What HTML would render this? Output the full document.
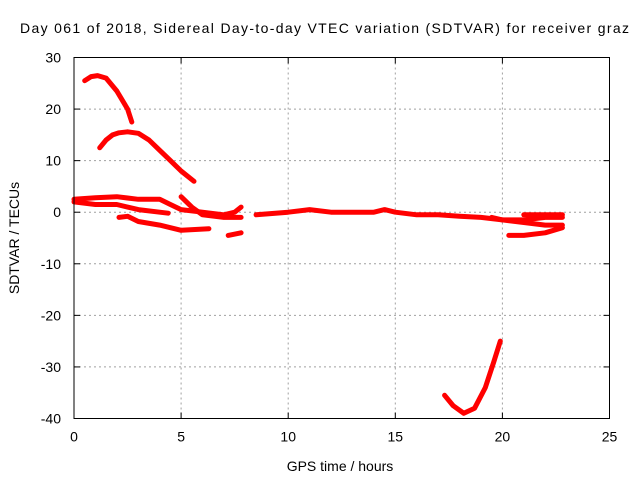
<!DOCTYPE html>
<html><head><meta charset="utf-8"><style>
body{margin:0;background:#fff}
svg text{font-family:"Liberation Sans",sans-serif;font-size:14px;fill:#000}
</style></head><body>
<svg id="chart" width="640" height="480" xmlns="http://www.w3.org/2000/svg">
<text x="20" y="33" textLength="609" lengthAdjust="spacing">Day 061 of 2018, Sidereal Day-to-day VTEC variation (SDTVAR) for receiver graz</text>
<text x="340" y="471" text-anchor="middle">GPS time / hours</text>
<text transform="translate(19,238) rotate(-90)" text-anchor="middle">SDTVAR / TECUs</text>
<g id="grid"></g>
<g id="series"></g>
<rect x="74" y="57.5" width="535.5" height="361" fill="none" stroke="#000" stroke-width="1"/>
<g id="ticks"></g>
</svg>
<script>
const xTicks=[0,5,10,15,20,25];
const yTicks=[-40,-30,-20,-10,0,10,20,30];
const arcTopX=[0.5,0.8,1.1,1.5,2,2.5,2.7];
const arcTopY=[25.5,26.3,26.5,26,23.5,20,17.5];
const arcHighX=[1.2,1.5,1.8,2.1,2.5,3,3.5,4,4.5,5,5.6];
const arcHighY=[12.5,14,15,15.4,15.6,15.3,14,12,10,8,6];
const band1X=[0,1,2,3,4,4.5,5,6,7,7.5,7.8];
const band1Y=[2.5,2.8,3,2.5,2.5,1.5,0.5,0,-0.5,0,1];
const band2X=[0,1,2,3,4,4.4];
const band2Y=[2,1.5,1.5,0.5,0,-0.2];
const band3X=[2.1,2.5,3,4,5,6.3];
const band3Y=[-1,-0.8,-1.8,-2.5,-3.5,-3.2];
const band4X=[5,5.5,6,7,7.8];
const band4Y=[3,1,-0.5,-1,-1];
const seg1X=[7.2,7.8];
const seg1Y=[-4.5,-4];
const longX=[8.5,10,11,12,14,14.5,15,16,17,18,19,20,21,22,22.8];
const longY=[-0.5,0,0.5,0,0,0.5,0,-0.5,-0.5,-0.8,-1,-1.5,-1.5,-1,-1];
const band5X=[19.5,20,21,22,22.8];
const band5Y=[-1,-1.5,-2,-2.5,-2.5];
const band6X=[20.3,21,22,22.8];
const band6Y=[-4.5,-4.5,-4,-3];
const band7X=[21,22.8];
const band7Y=[-0.5,-0.5];
const deepX=[17.3,17.7,18.2,18.7,19.2,19.6,19.9];
const deepY=[-35.5,-37.5,-39,-38,-34,-29,-25];
const seriesX=[arcTopX,arcHighX,band1X,band2X,band3X,band4X,seg1X,longX,band5X,band6X,band7X,deepX];
const seriesY=[arcTopY,arcHighY,band1Y,band2Y,band3Y,band4Y,seg1Y,longY,band5Y,band6Y,band7Y,deepY];
const L=74,R=609.5,T=57.5,B=418.5;
const sx=v=>L+(v-0)/25*(R-L);
const sy=v=>B-(v+40)/70*(B-T);
const NS="http://www.w3.org/2000/svg";
const grid=document.getElementById('grid'),ticks=document.getElementById('ticks'),ser=document.getElementById('series');
function mk(tag,attrs,parent){const e=document.createElementNS(NS,tag);for(const k in attrs)e.setAttribute(k,attrs[k]);parent.appendChild(e);return e;}
xTicks.forEach(t=>{
  const x=sx(t);
  if(t>0&&t<25){const g=mk('line',{x1:x,x2:x,y1:T,y2:B,stroke:'#a0a0a0','stroke-dasharray':'2,3'},grid);
  
  }
  const a=mk('line',{x1:x,x2:x,y1:B,y2:B-6,stroke:'#000'},ticks);
  
  
  mk('line',{x1:x,x2:x,y1:T,y2:T+6,stroke:'#000'},ticks);
  const lb=mk('text',{x:x,y:B+23,'text-anchor':'middle'},ticks);lb.textContent=t;
  
  
});
yTicks.forEach(t=>{
  const y=sy(t);
  if(t>-40&&t<30){const g=mk('line',{x1:L,x2:R,y1:y,y2:y,stroke:'#a0a0a0','stroke-dasharray':'2,3'},grid);
  
  }
  const a=mk('line',{x1:L,x2:L+6,y1:y,y2:y,stroke:'#000'},ticks);
  
  
  mk('line',{x1:R,x2:R-6,y1:y,y2:y,stroke:'#000'},ticks);
  const lb=mk('text',{x:L-13,y:y+5,'text-anchor':'end'},ticks);lb.textContent=t;
  
  
});
seriesX.forEach((xs,i)=>{
  const ys=seriesY[i];
  const pts=xs.map((x,j)=>sx(x).toFixed(1)+','+sy(ys[j]).toFixed(1)).join(' ');
  const p=mk('polyline',{points:pts,fill:'none',stroke:'#ff0000','stroke-width':5,'stroke-linejoin':'round','stroke-linecap':'round'},ser);
  
  
});
</script>
</body></html>
